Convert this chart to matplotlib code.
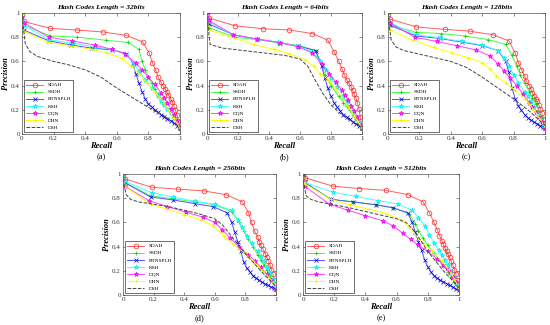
import matplotlib
matplotlib.use('Agg')
import matplotlib.pyplot as plt

plt.rcParams['font.family'] = ['Liberation Serif', 'DejaVu Serif']

methods = ['SDAH', 'SSDH', 'BTNSPLH', 'KSH', 'DQN', 'DHN', 'DSH']
bits = ['32', '64', '128', '256', '512']
panel_tags = ['(a)', '(b)', '(c)', '(d)', '(e)']

# each entry: [recall values], [precision values]
# ---- 32 bits
sdah_32 = [[0.0, 0.01, 0.18, 0.35, 0.515, 0.66, 0.765, 0.805, 0.825, 0.846, 0.863, 0.878, 0.892, 0.905, 0.915, 0.926, 0.94, 0.95, 0.96, 0.97, 0.98, 0.99, 1.0],
           [0.99, 0.93, 0.873, 0.859, 0.843, 0.815, 0.76, 0.668, 0.59, 0.525, 0.47, 0.43, 0.40, 0.376, 0.348, 0.323, 0.29, 0.265, 0.235, 0.20, 0.16, 0.11, 0.05]]
ssdh_32 = [[0.0, 0.01, 0.18, 0.35, 0.53, 0.67, 0.74, 0.76, 0.78, 0.8, 0.82, 0.84, 0.86, 0.88, 0.9, 0.92, 0.94, 0.96, 0.98, 1.0],
           [0.99, 0.9, 0.81, 0.80, 0.775, 0.757, 0.70, 0.60, 0.53, 0.47, 0.42, 0.37, 0.33, 0.29, 0.25, 0.21, 0.17, 0.13, 0.09, 0.05]]
btns_32 = [[0.0, 0.01, 0.17, 0.31, 0.44, 0.57, 0.66, 0.70, 0.72, 0.74, 0.76, 0.78, 0.8, 0.82, 0.84, 0.86, 0.88, 0.9, 0.92, 0.94, 0.96, 0.98, 1.0],
           [0.88, 0.86, 0.77, 0.735, 0.71, 0.695, 0.665, 0.59, 0.50, 0.42, 0.35, 0.29, 0.25, 0.225, 0.20, 0.18, 0.16, 0.14, 0.125, 0.11, 0.09, 0.07, 0.05]]
ksh_32 = [[0.0, 0.01, 0.17, 0.32, 0.46, 0.57, 0.66, 0.71, 0.74, 0.78, 0.82, 0.86, 0.88, 0.9, 0.92, 0.94, 0.96, 0.98, 1.0],
          [0.93, 0.9, 0.78, 0.75, 0.72, 0.70, 0.655, 0.58, 0.52, 0.45, 0.38, 0.31, 0.275, 0.24, 0.205, 0.17, 0.135, 0.095, 0.05]]
dqn_32 = [[0.0, 0.01, 0.17, 0.315, 0.46, 0.57, 0.655, 0.72, 0.76, 0.8, 0.84, 0.88, 0.9, 0.92, 0.94, 0.96, 0.98, 1.0],
          [0.97, 0.92, 0.80, 0.77, 0.735, 0.70, 0.66, 0.585, 0.53, 0.47, 0.41, 0.34, 0.30, 0.26, 0.21, 0.16, 0.11, 0.05]]
dhn_32 = [[0.0, 0.01, 0.16, 0.3, 0.44, 0.54, 0.63, 0.69, 0.74, 0.79, 0.84, 0.89, 0.92, 0.94, 0.96, 0.98, 1.0],
          [0.99, 0.85, 0.76, 0.73, 0.70, 0.67, 0.625, 0.56, 0.50, 0.42, 0.35, 0.27, 0.21, 0.17, 0.13, 0.09, 0.05]]
dsh_32 = [[0.0, 0.02, 0.05, 0.1, 0.2, 0.3, 0.4, 0.5, 0.6, 0.7, 0.8, 0.9, 1.0],
          [0.98, 0.75, 0.68, 0.64, 0.60, 0.57, 0.53, 0.47, 0.38, 0.30, 0.22, 0.15, 0.06]]

# ---- 64 bits
sdah_64 = [[0.0, 0.01, 0.18, 0.36, 0.53, 0.68, 0.78, 0.82, 0.85, 0.87, 0.885, 0.9, 0.915, 0.93, 0.94, 0.95, 0.96, 0.97, 0.98, 0.99, 1.0],
           [1.0, 0.96, 0.895, 0.87, 0.86, 0.83, 0.775, 0.68, 0.60, 0.54, 0.49, 0.45, 0.42, 0.39, 0.36, 0.33, 0.30, 0.26, 0.21, 0.14, 0.05]]
ssdh_64 = [[0.0, 0.01, 0.18, 0.32, 0.46, 0.6, 0.70, 0.74, 0.76, 0.8, 0.85, 0.88, 0.9, 0.92, 0.94, 0.96, 0.98, 1.0],
           [0.97, 0.88, 0.80, 0.78, 0.755, 0.73, 0.69, 0.58, 0.49, 0.40, 0.31, 0.26, 0.23, 0.195, 0.16, 0.125, 0.09, 0.05]]
btns_64 = [[0.0, 0.01, 0.17, 0.32, 0.47, 0.59, 0.70, 0.74, 0.76, 0.78, 0.8, 0.82, 0.84, 0.86, 0.88, 0.9, 0.92, 0.94, 0.96, 0.98, 1.0],
           [0.93, 0.91, 0.82, 0.785, 0.755, 0.725, 0.69, 0.56, 0.46, 0.38, 0.31, 0.26, 0.22, 0.19, 0.16, 0.14, 0.12, 0.10, 0.085, 0.07, 0.05]]
ksh_64 = [[0.0, 0.01, 0.17, 0.32, 0.46, 0.59, 0.68, 0.73, 0.77, 0.8, 0.84, 0.88, 0.9, 0.92, 0.94, 0.96, 0.98, 1.0],
          [0.97, 0.93, 0.815, 0.785, 0.76, 0.725, 0.68, 0.60, 0.53, 0.46, 0.39, 0.31, 0.27, 0.23, 0.19, 0.14, 0.10, 0.05]]
dqn_64 = [[0.0, 0.01, 0.17, 0.32, 0.47, 0.59, 0.68, 0.74, 0.79, 0.83, 0.87, 0.89, 0.91, 0.93, 0.95, 0.97, 1.0],
          [0.98, 0.94, 0.82, 0.785, 0.755, 0.72, 0.67, 0.58, 0.50, 0.43, 0.36, 0.32, 0.28, 0.235, 0.19, 0.14, 0.05]]
dhn_64 = [[0.0, 0.01, 0.18, 0.3, 0.43, 0.53, 0.63, 0.69, 0.73, 0.78, 0.83, 0.88, 0.91, 0.93, 0.95, 0.97, 1.0],
          [0.98, 0.86, 0.79, 0.74, 0.70, 0.665, 0.615, 0.56, 0.50, 0.45, 0.37, 0.29, 0.23, 0.19, 0.15, 0.11, 0.05]]
dsh_64 = [[0.0, 0.02, 0.1, 0.3, 0.5, 0.6, 0.65, 0.7, 0.75, 0.8, 0.85, 0.9, 1.0],
          [0.97, 0.74, 0.71, 0.68, 0.65, 0.62, 0.56, 0.44, 0.33, 0.24, 0.18, 0.13, 0.06]]

# ---- 128 bits
sdah_128 = [[0.0, 0.01, 0.18, 0.36, 0.52, 0.67, 0.77, 0.81, 0.83, 0.85, 0.87, 0.88, 0.9, 0.91, 0.92, 0.93, 0.94, 0.95, 0.96, 0.97, 0.98, 0.99, 1.0],
            [0.99, 0.95, 0.885, 0.865, 0.85, 0.82, 0.77, 0.67, 0.59, 0.53, 0.48, 0.44, 0.40, 0.37, 0.34, 0.31, 0.29, 0.27, 0.24, 0.21, 0.17, 0.12, 0.05]]
ssdh_128 = [[0.0, 0.01, 0.18, 0.34, 0.49, 0.64, 0.75, 0.79, 0.82, 0.84, 0.87, 0.9, 0.92, 0.94, 0.96, 0.98, 1.0],
            [0.99, 0.9, 0.84, 0.83, 0.81, 0.78, 0.74, 0.65, 0.56, 0.49, 0.42, 0.35, 0.30, 0.25, 0.19, 0.13, 0.05]]
btns_128 = [[0.0, 0.01, 0.18, 0.33, 0.47, 0.6, 0.7, 0.75, 0.77, 0.79, 0.81, 0.83, 0.85, 0.87, 0.89, 0.91, 0.93, 0.95, 0.97, 0.99, 1.0],
            [0.96, 0.9, 0.81, 0.79, 0.76, 0.73, 0.69, 0.6, 0.51, 0.38, 0.29, 0.235, 0.195, 0.16, 0.135, 0.115, 0.10, 0.085, 0.07, 0.055, 0.05]]
ksh_128 = [[0.0, 0.01, 0.18, 0.33, 0.47, 0.6, 0.7, 0.74, 0.77, 0.8, 0.83, 0.87, 0.89, 0.91, 0.93, 0.95, 0.97, 0.99, 1.0],
           [0.97, 0.92, 0.82, 0.795, 0.765, 0.735, 0.69, 0.63, 0.56, 0.49, 0.42, 0.35, 0.31, 0.27, 0.225, 0.18, 0.13, 0.08, 0.05]]
dqn_128 = [[0.0, 0.01, 0.17, 0.31, 0.44, 0.56, 0.65, 0.7, 0.74, 0.78, 0.82, 0.86, 0.9, 0.92, 0.94, 0.96, 0.98, 1.0],
           [0.97, 0.92, 0.80, 0.765, 0.73, 0.695, 0.645, 0.58, 0.52, 0.46, 0.40, 0.33, 0.26, 0.22, 0.18, 0.14, 0.10, 0.05]]
dhn_128 = [[0.0, 0.01, 0.16, 0.29, 0.41, 0.51, 0.6, 0.65, 0.69, 0.75, 0.81, 0.87, 0.9, 0.93, 0.95, 0.97, 1.0],
           [0.97, 0.86, 0.775, 0.715, 0.67, 0.63, 0.59, 0.54, 0.48, 0.42, 0.36, 0.29, 0.25, 0.2, 0.16, 0.12, 0.06]]
dsh_128 = [[0.0, 0.02, 0.05, 0.1, 0.2, 0.3, 0.4, 0.5, 0.6, 0.7, 0.8, 0.9, 1.0],
           [0.97, 0.78, 0.72, 0.69, 0.66, 0.63, 0.60, 0.55, 0.47, 0.38, 0.29, 0.19, 0.07]]

# ---- 256 bits
sdah_256 = [[0.0, 0.01, 0.19, 0.36, 0.53, 0.67, 0.78, 0.82, 0.84, 0.86, 0.88, 0.89, 0.9, 0.915, 0.93, 0.94, 0.95, 0.96, 0.97, 0.98, 0.99, 1.0],
            [0.99, 0.96, 0.89, 0.875, 0.86, 0.83, 0.77, 0.68, 0.6, 0.53, 0.48, 0.44, 0.41, 0.38, 0.34, 0.31, 0.28, 0.25, 0.21, 0.17, 0.12, 0.05]]
ssdh_256 = [[0.0, 0.01, 0.18, 0.33, 0.47, 0.6, 0.71, 0.76, 0.79, 0.82, 0.85, 0.88, 0.9, 0.92, 0.94, 0.96, 0.98, 1.0],
            [0.97, 0.93, 0.82, 0.795, 0.77, 0.745, 0.69, 0.6, 0.53, 0.46, 0.40, 0.33, 0.29, 0.25, 0.205, 0.16, 0.11, 0.06]]
btns_256 = [[0.0, 0.01, 0.18, 0.33, 0.47, 0.59, 0.68, 0.71, 0.73, 0.75, 0.77, 0.79, 0.81, 0.83, 0.85, 0.87, 0.89, 0.91, 0.93, 0.95, 0.97, 0.99, 1.0],
            [0.98, 0.93, 0.81, 0.785, 0.755, 0.73, 0.68, 0.60, 0.52, 0.44, 0.36, 0.27, 0.22, 0.19, 0.16, 0.14, 0.12, 0.105, 0.09, 0.08, 0.065, 0.055, 0.05]]
ksh_256 = [[0.0, 0.01, 0.19, 0.33, 0.47, 0.6, 0.71, 0.75, 0.78, 0.81, 0.84, 0.88, 0.9, 0.92, 0.94, 0.96, 0.98, 1.0],
           [0.98, 0.94, 0.845, 0.81, 0.775, 0.75, 0.70, 0.62, 0.56, 0.49, 0.43, 0.36, 0.32, 0.28, 0.23, 0.18, 0.13, 0.07]]
dqn_256 = [[0.0, 0.01, 0.17, 0.29, 0.41, 0.52, 0.6, 0.65, 0.7, 0.76, 0.82, 0.86, 0.9, 0.94, 0.97, 1.0],
           [0.97, 0.9, 0.78, 0.73, 0.685, 0.645, 0.60, 0.54, 0.47, 0.40, 0.33, 0.285, 0.23, 0.17, 0.12, 0.06]]
dhn_256 = [[0.0, 0.01, 0.18, 0.29, 0.4, 0.51, 0.59, 0.66, 0.72, 0.79, 0.85, 0.88, 0.91, 0.94, 0.96, 0.98, 1.0],
           [0.97, 0.90, 0.75, 0.71, 0.665, 0.62, 0.57, 0.49, 0.42, 0.35, 0.28, 0.24, 0.2, 0.16, 0.13, 0.10, 0.07]]
dsh_256 = [[0.0, 0.02, 0.05, 0.1, 0.2, 0.3, 0.4, 0.5, 0.6, 0.65, 0.7, 0.75, 0.8, 0.85, 0.9, 1.0],
           [0.96, 0.83, 0.79, 0.77, 0.75, 0.73, 0.70, 0.67, 0.63, 0.58, 0.50, 0.42, 0.34, 0.27, 0.20, 0.07]]

# ---- 512 bits
sdah_512 = [[0.0, 0.01, 0.19, 0.36, 0.53, 0.67, 0.77, 0.81, 0.84, 0.86, 0.875, 0.89, 0.9, 0.91, 0.92, 0.93, 0.94, 0.95, 0.96, 0.97, 0.98, 0.99, 1.0],
            [0.99, 0.97, 0.9, 0.88, 0.865, 0.83, 0.77, 0.68, 0.60, 0.54, 0.49, 0.45, 0.42, 0.39, 0.36, 0.335, 0.31, 0.28, 0.25, 0.21, 0.17, 0.12, 0.06]]
ssdh_512 = [[0.0, 0.01, 0.18, 0.32, 0.47, 0.58, 0.68, 0.72, 0.74, 0.77, 0.8, 0.84, 0.88, 0.9, 0.93, 0.95, 0.97, 1.0],
            [0.98, 0.93, 0.79, 0.77, 0.745, 0.72, 0.67, 0.59, 0.53, 0.47, 0.41, 0.35, 0.28, 0.24, 0.19, 0.15, 0.11, 0.05]]
btns_512 = [[0.0, 0.01, 0.18, 0.32, 0.47, 0.58, 0.67, 0.7, 0.72, 0.74, 0.76, 0.78, 0.8, 0.82, 0.84, 0.86, 0.88, 0.9, 0.92, 0.94, 0.96, 0.98, 1.0],
            [0.98, 0.93, 0.79, 0.77, 0.745, 0.72, 0.68, 0.60, 0.52, 0.44, 0.37, 0.29, 0.23, 0.19, 0.16, 0.14, 0.12, 0.11, 0.095, 0.08, 0.065, 0.05, 0.04]]
ksh_512 = [[0.0, 0.01, 0.19, 0.34, 0.48, 0.61, 0.7, 0.74, 0.78, 0.81, 0.84, 0.87, 0.89, 0.91, 0.93, 0.95, 0.97, 0.99, 1.0],
           [0.97, 0.93, 0.85, 0.815, 0.78, 0.75, 0.70, 0.64, 0.57, 0.50, 0.43, 0.37, 0.33, 0.29, 0.245, 0.2, 0.15, 0.09, 0.06]]
dqn_512 = [[0.0, 0.01, 0.17, 0.29, 0.4, 0.51, 0.58, 0.64, 0.69, 0.74, 0.8, 0.86, 0.9, 0.92, 0.94, 0.96, 0.98, 1.0],
           [0.96, 0.9, 0.75, 0.70, 0.655, 0.615, 0.57, 0.51, 0.46, 0.41, 0.36, 0.30, 0.25, 0.22, 0.19, 0.15, 0.11, 0.06]]
dhn_512 = [[0.0, 0.01, 0.18, 0.3, 0.42, 0.54, 0.63, 0.68, 0.72, 0.77, 0.83, 0.89, 0.92, 0.95, 0.97, 1.0],
           [0.97, 0.92, 0.79, 0.745, 0.71, 0.67, 0.62, 0.56, 0.50, 0.43, 0.36, 0.28, 0.23, 0.18, 0.13, 0.06]]
dsh_512 = [[0.0, 0.02, 0.05, 0.1, 0.2, 0.3, 0.4, 0.5, 0.6, 0.66, 0.7, 0.75, 0.8, 0.85, 0.9, 1.0],
           [0.95, 0.82, 0.79, 0.77, 0.745, 0.72, 0.69, 0.66, 0.63, 0.60, 0.55, 0.46, 0.36, 0.28, 0.2, 0.06]]

curves = {
    '32': [sdah_32, ssdh_32, btns_32, ksh_32, dqn_32, dhn_32, dsh_32],
    '64': [sdah_64, ssdh_64, btns_64, ksh_64, dqn_64, dhn_64, dsh_64],
    '128': [sdah_128, ssdh_128, btns_128, ksh_128, dqn_128, dhn_128, dsh_128],
    '256': [sdah_256, ssdh_256, btns_256, ksh_256, dqn_256, dhn_256, dsh_256],
    '512': [sdah_512, ssdh_512, btns_512, ksh_512, dqn_512, dhn_512, dsh_512],
}

styles = [
    dict(color='#ff6060', marker='o', mfc='none', mec='#ff2020', ms=3.4, ls='-'),
    dict(color='#44ff44', marker='+', mec='#00cc00', ms=3.5, ls='-'),
    dict(color='#5050ff', marker='x', mec='#0000dd', ms=2.6, ls='-'),
    dict(color='#44ffff', marker='*', mec='#00eeee', ms=3.5, ls='-'),
    dict(color='#ff44ff', marker='*', mec='#ee00ee', ms=3.5, ls='-'),
    dict(color='#ffff00', marker='+', mec='#eeee00', ms=3.5, ls='-'),
    dict(color='#444444', marker=None, ls='--'),
]

# axes boxes in pixels: left, top, right, bottom
boxes = [(22, 13, 180, 134), (207, 13, 362, 134), (388, 13, 545, 134),
         (123, 174, 276, 295), (303, 174, 459, 295)]

W, H = 550, 325
fig = plt.figure(figsize=(5.5, 3.25), dpi=100)

for i, b in enumerate(bits):
    l, t, r, btm = boxes[i]
    ax = fig.add_axes([l / W, 1 - btm / H, (r - l) / W, (btm - t) / H])
    for m, c, st in zip(methods, curves[b], styles):
        ax.plot(c[0], c[1], lw=0.7, mew=0.5, label=m, **st)
    ax.set_xlim(0, 1)
    ax.set_ylim(0, 1)
    ax.set_xticks([0, 0.2, 0.4, 0.6, 0.8, 1])
    ax.set_yticks([0, 0.2, 0.4, 0.6, 0.8, 1])
    ax.set_xticklabels(['0', '0.2', '0.4', '0.6', '0.8', '1'])
    ax.set_yticklabels(['0', '0.2', '0.4', '0.6', '0.8', '1'])
    ax.tick_params(direction='in', length=2, width=0.4, labelsize=5, pad=1.5,
                   top=True, right=True, colors='#333333')
    for s in ax.spines.values():
        s.set_linewidth(0.5)
        s.set_color('#555555')
    ax.set_title('Hash Codes Length = %sbits' % b, fontsize=5.4,
                 fontweight='bold', style='italic', pad=3)
    ax.set_xlabel('Recall', fontsize=6, fontweight='bold', style='italic', labelpad=1)
    ax.set_ylabel('Precision', fontsize=6, fontweight='bold', style='italic', labelpad=1)
    ax.text(0.5, -0.155, panel_tags[i], transform=ax.transAxes, ha='center',
            va='top', fontsize=6)
    leg = ax.legend(loc='lower left', fontsize=3.8, handlelength=3.2,
                    borderaxespad=0.3, labelspacing=0.45, borderpad=0.5,
                    fancybox=False, edgecolor='black', framealpha=1)
    leg.get_frame().set_linewidth(0.4)

fig.savefig('out.png', dpi=100)
